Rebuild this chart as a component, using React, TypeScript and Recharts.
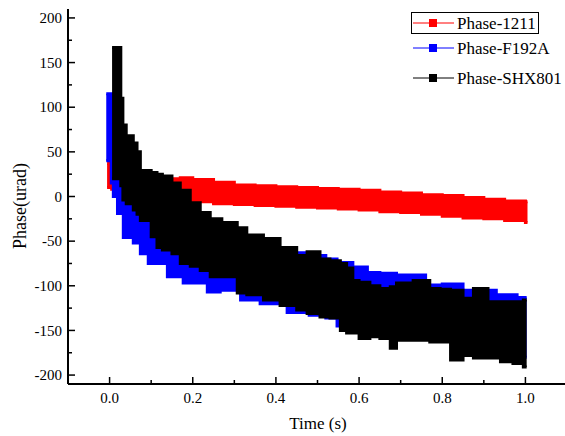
import React from "react";
import { Area, ComposedChart, XAxis, YAxis } from "recharts";

// time (s) and the low / high edge of each band
const redTime = [-0.006, 0.005, 0.03, 0.08, 0.13, 0.17, 0.2, 0.25, 0.3, 0.35, 0.4, 0.45, 0.5, 0.55, 0.6, 0.65, 0.7, 0.75, 0.8, 0.85, 0.9, 0.95, 1.0, 1.005];
const redHigh = [37, 28, 24, 22, 20, 21, 19, 16, 13, 12, 11, 10, 9, 8, 7, 5, 4, 2, 1, -1, -3, -5, -6, -6];
const redLow = [10, 8, 2, -2, -5, -6, -6, -8, -9, -10, -11, -12, -13, -14, -15, -17, -18, -20, -22, -24, -25, -27, -29, -29];

const blueTime = [-0.008, 0.004, 0.009, 0.019, 0.033, 0.057, 0.074, 0.093, 0.139, 0.177, 0.235, 0.266, 0.315, 0.362, 0.427, 0.48, 0.52, 0.547, 0.585, 0.62, 0.65, 0.69, 0.76, 0.8, 0.85, 0.89, 0.93, 0.98, 1.003];
const blueHigh = [115, 115, 60, 40, 15, 5, -5, -10, -20, -30, -40, -45, -52, -57, -63, -66, -70, -74, -79, -85, -86, -88, -99, -98, -105, -105, -110, -113, -113];
const blueLow = [40, 15, 0, -19, -46, -52, -64, -75, -90, -97, -107, -105, -116, -120, -130, -133, -136, -145, -150, -152, -155, -158, -160, -162, -170, -172, -175, -180, -180];

const blackTime = [0.006, 0.027, 0.032, 0.04, 0.057, 0.066, 0.074, 0.1, 0.114, 0.127, 0.15, 0.17, 0.194, 0.218, 0.242, 0.27, 0.307, 0.33, 0.37, 0.41, 0.45, 0.475, 0.506, 0.53, 0.555, 0.57, 0.585, 0.6, 0.626, 0.65, 0.675, 0.69, 0.73, 0.77, 0.795, 0.82, 0.85, 0.875, 0.91, 0.94, 0.97, 0.995, 1.003];
const blackHigh = [167, 110, 80, 68, 60, 50, 29, 27, 25, 23, 15, 7, -7, -18, -25, -29, -35, -43, -47, -57, -66, -62, -70, -72, -75, -80, -94, -96, -100, -103, -101, -97, -94, -103, -104, -105, -114, -103, -118, -118, -118, -116, -116];
const blackLow = [20, 12, -4, -8, -15, -20, -27, -45, -57, -60, -64, -75, -78, -83, -90, -90, -108, -110, -116, -122, -127, -131, -135, -136, -150, -153, -153, -159, -157, -159, -170, -161, -161, -163, -163, -183, -178, -181, -181, -185, -187, -191, -191];

const xMajorTicks = [0, 0.2, 0.4, 0.6, 0.8, 1.0];
const xMinorTicks = [0.1, 0.3, 0.5, 0.7, 0.9];
const yMajorTicks = [-200, -150, -100, -50, 0, 50, 100, 150, 200];
const yMinorTicks = [-175, -125, -75, -25, 25, 75, 125, 175];

const series = [
  { name: "Phase-1211", color: "#ff0000", time: redTime, low: redLow, high: redHigh },
  { name: "Phase-F192A", color: "#0000ff", time: blueTime, low: blueLow, high: blueHigh },
  { name: "Phase-SHX801", color: "#000000", time: blackTime, low: blackLow, high: blackHigh },
];

const FONT = "Liberation Serif";
const textStyle = { fontFamily: FONT };

function toRows(time: number[], low: number[], high: number[]) {
  return time.map((t, i) => ({ t, range: [low[i], high[i]] }));
}

function isMajor(value: number, majors: number[]) {
  return majors.some((m) => Math.abs(m - value) < 1e-9);
}

function LeftTick({ x, y, payload }: any) {
  const major = isMajor(payload.value, yMajorTicks);
  return (
    <g>
      <line x1={x} x2={x + (major ? 7 : 4)} y1={y} y2={y} stroke="#000" strokeWidth={1.5} />
      {major && (
        <text x={x - 6} y={y} dy="0.34em" textAnchor="end" fontSize={15} style={textStyle} fill="#000">
          {payload.value}
        </text>
      )}
    </g>
  );
}

function RightTick({ x, y, payload }: any) {
  const major = isMajor(payload.value, yMajorTicks);
  return <line x1={x} x2={x - (major ? 7 : 4)} y1={y} y2={y} stroke="#000" strokeWidth={1.5} />;
}

function BottomTick({ x, y, payload }: any) {
  const major = isMajor(payload.value, xMajorTicks);
  return (
    <g>
      <line x1={x} x2={x} y1={y} y2={y - (major ? 7 : 4)} stroke="#000" strokeWidth={1.5} />
      {major && (
        <text x={x} y={y + 19} textAnchor="middle" fontSize={15} style={textStyle} fill="#000">
          {payload.value.toFixed(1)}
        </text>
      )}
    </g>
  );
}

function TopTick({ x, y, payload }: any) {
  const major = isMajor(payload.value, xMajorTicks);
  return <line x1={x} x2={x} y1={y} y2={y + (major ? 7 : 4)} stroke="#000" strokeWidth={1.5} />;
}

function LegendBlock() {
  const rows = [23, 48, 78];
  return (
    <svg width={165} height={95} style={{ position: "absolute", left: 400, top: 0 }}>
      <rect x={11.5} y={12.5} width={127} height={21} fill="none" stroke="#000" strokeWidth={1} />
      {series.map((s, i) => (
        <g key={s.name}>
          <line x1={13} x2={54} y1={rows[i]} y2={rows[i]} stroke={s.color} strokeWidth={1} />
          <rect x={29} y={rows[i] - 4} width={8} height={8} fill={s.color} />
          <text x={57} y={rows[i]} dy="0.34em" fontSize={17} style={textStyle} fill="#000">
            {s.name}
          </text>
        </g>
      ))}
    </svg>
  );
}

export default function App() {
  const xTicks = [...xMajorTicks, ...xMinorTicks].sort((a, b) => a - b);
  const yTicks = [...yMajorTicks, ...yMinorTicks].sort((a, b) => a - b);

  return (
    <div style={{ position: "absolute", left: 0, top: 0, width: 575, height: 436, fontFamily: FONT }}>
      <ComposedChart width={575} height={436} margin={{ top: 9, right: 8, bottom: 0, left: 0 }}>
        <XAxis
          xAxisId="bottom"
          type="number"
          dataKey="t"
          domain={[-0.1, 1.1]}
          ticks={xTicks}
          interval={0}
          height={52}
          tickSize={0}
          tickMargin={0}
          tickLine={false}
          tick={<BottomTick />}
          axisLine={{ stroke: "#000", strokeWidth: 2 }}
          allowDataOverflow
          label={{
            content: () => (
              <text x={318} y={429} textAnchor="middle" fontSize={17} style={textStyle} fill="#000">
                Time (s)
              </text>
            ),
          }}
        />
        <XAxis
          xAxisId="top"
          orientation="top"
          type="number"
          dataKey="t"
          domain={[-0.1, 1.1]}
          ticks={xTicks}
          interval={0}
          height={0}
          tickSize={0}
          tickMargin={0}
          tickLine={false}
          tick={<TopTick />}
          axisLine={{ stroke: "#000", strokeWidth: 2 }}
          allowDataOverflow
        />
        <YAxis
          yAxisId="left"
          type="number"
          domain={[-210, 210]}
          ticks={yTicks}
          interval={0}
          width={68}
          tickSize={0}
          tickMargin={0}
          tickLine={false}
          tick={<LeftTick />}
          axisLine={{ stroke: "#000", strokeWidth: 2 }}
          allowDataOverflow
          label={{
            content: () => (
              <text transform="translate(26,206) rotate(-90)" textAnchor="middle" fontSize={18} style={textStyle} fill="#000">
                Phase(urad)
              </text>
            ),
          }}
        />
        <YAxis
          yAxisId="right"
          orientation="right"
          type="number"
          domain={[-210, 210]}
          ticks={yTicks}
          interval={0}
          width={0}
          tickSize={0}
          tickMargin={0}
          tickLine={false}
          tick={<RightTick />}
          axisLine={{ stroke: "#000", strokeWidth: 2 }}
          allowDataOverflow
        />
        {series.map((s) => (
          <Area
            key={s.name}
            xAxisId="bottom"
            yAxisId="left"
            data={toRows(s.time, s.low, s.high)}
            dataKey="range"
            type="stepAfter"
            fill={s.color}
            fillOpacity={1}
            stroke={s.color}
            strokeWidth={3}
            isAnimationActive={false}
            dot={false}
            activeDot={false}
          />
        ))}
      </ComposedChart>
      <LegendBlock />
    </div>
  );
}
